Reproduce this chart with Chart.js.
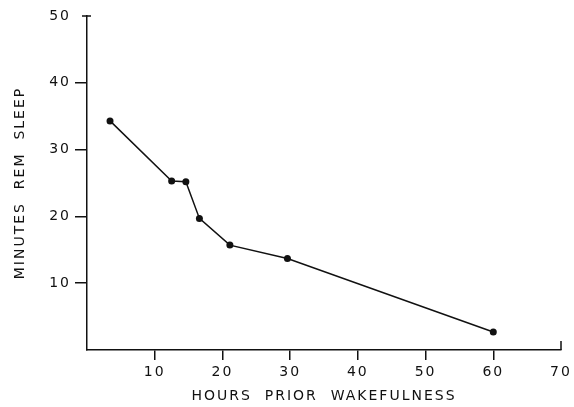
<!DOCTYPE html>
<html>
<head>
<meta charset="utf-8">
<script src="https://cdn.jsdelivr.net/npm/chart.js@4.4.0/dist/chart.umd.min.js"></script>
<style>
  html, body { margin: 0; padding: 0; background: #fff; }
  #wrap { width: 574px; height: 407px; }
</style>
</head>
<body>
<div id="wrap"><canvas id="myChart"></canvas></div>
<script>
// hours of prior wakefulness vs minutes of REM sleep
const hours = [3.4, 12.5, 14.6, 16.6, 21.1, 29.6, 60];
const remMinutes = [34.3, 25.3, 25.2, 19.7, 15.7, 13.7, 2.7];
const xTicks = [10, 20, 30, 40, 50, 60, 70];
const yTicks = [10, 20, 30, 40, 50];

const points = hours.map((h, i) => ({ x: h, y: remMinutes[i] }));
const ink = '#111';
const tickFont = { family: 'DejaVu Sans', size: 14 };

// the lettering in the original is widely spaced
const spacing = {
  id: 'spacing',
  beforeDraw(chart) { chart.ctx.letterSpacing = '2px'; }
};

// the 50 and 70 end marks point inward in the original
const endTicks = {
  id: 'endTicks',
  afterDraw(chart) {
    const ctx = chart.ctx;
    const xs = chart.scales.x, ys = chart.scales.y;
    const yTop = ys.getPixelForValue(50);
    const xEnd = xs.getPixelForValue(70);
    ctx.save();
    ctx.strokeStyle = ink;
    ctx.lineWidth = 1.5;
    ctx.beginPath();
    ctx.moveTo(xs.left - 5, yTop);
    ctx.lineTo(xs.left + 4, yTop);
    ctx.moveTo(xEnd, ys.bottom);
    ctx.lineTo(xEnd, ys.bottom - 9);
    ctx.stroke();
    ctx.restore();
  }
};

const tickColor = (last) => (c) =>
  (c.tick && (c.tick.value === 0 || c.tick.value === last)) ? 'rgba(0,0,0,0)' : ink;

const config = {
  type: 'line',
  data: {
    datasets: [{
      data: points,
      borderColor: ink,
      backgroundColor: ink,
      borderWidth: 1.5,
      pointRadius: 3.5,
      pointBackgroundColor: ink,
      pointBorderWidth: 0,
      tension: 0
    }]
  },
  options: {
    responsive: true,
    maintainAspectRatio: false,
    animation: false,
    layout: { padding: { top: 16, right: 13, left: 0, bottom: 0 } },
    plugins: { legend: { display: false }, tooltip: { enabled: false } },
    scales: {
      x: {
        type: 'linear',
        min: 0,
        max: 70,
        afterBuildTicks: (s) => { s.ticks = [{ value: 0 }].concat(xTicks.map(v => ({ value: v }))); },
        afterFit: (s) => { s.height = 57; },
        border: { display: true, color: ink, width: 1.5 },
        grid: { drawOnChartArea: false, drawTicks: true, tickLength: 10, lineWidth: 1.5, color: tickColor(70) },
        ticks: {
          color: ink, font: tickFont, padding: 4, maxRotation: 0,
          callback: (v) => v === 0 ? '' : String(v)
        },
        title: {
          display: true,
          text: 'HOURS  PRIOR  WAKEFULNESS',
          color: ink,
          font: { family: 'DejaVu Sans', size: 14 },
          padding: { top: 4, bottom: 2 }
        }
      },
      y: {
        type: 'linear',
        min: 0,
        max: 50,
        afterBuildTicks: (s) => { s.ticks = [{ value: 0 }].concat(yTicks.map(v => ({ value: v }))); },
        afterFit: (s) => { s.width = 87; },
        border: { display: true, color: ink, width: 1.5 },
        grid: { drawOnChartArea: false, drawTicks: true, tickLength: 12, lineWidth: 1.5, color: tickColor(50) },
        ticks: {
          color: ink, font: tickFont, padding: 4,
          callback: (v) => v === 0 ? '' : String(v)
        },
        title: {
          display: true,
          text: 'MINUTES  REM  SLEEP',
          color: ink,
          font: { family: 'DejaVu Sans', size: 14 },
          padding: { top: 12, bottom: 8 }
        }
      }
    }
  },
  plugins: [spacing, endTicks]
};

const myChart = new Chart(document.getElementById('myChart'), config);
</script>
</body>
</html>
